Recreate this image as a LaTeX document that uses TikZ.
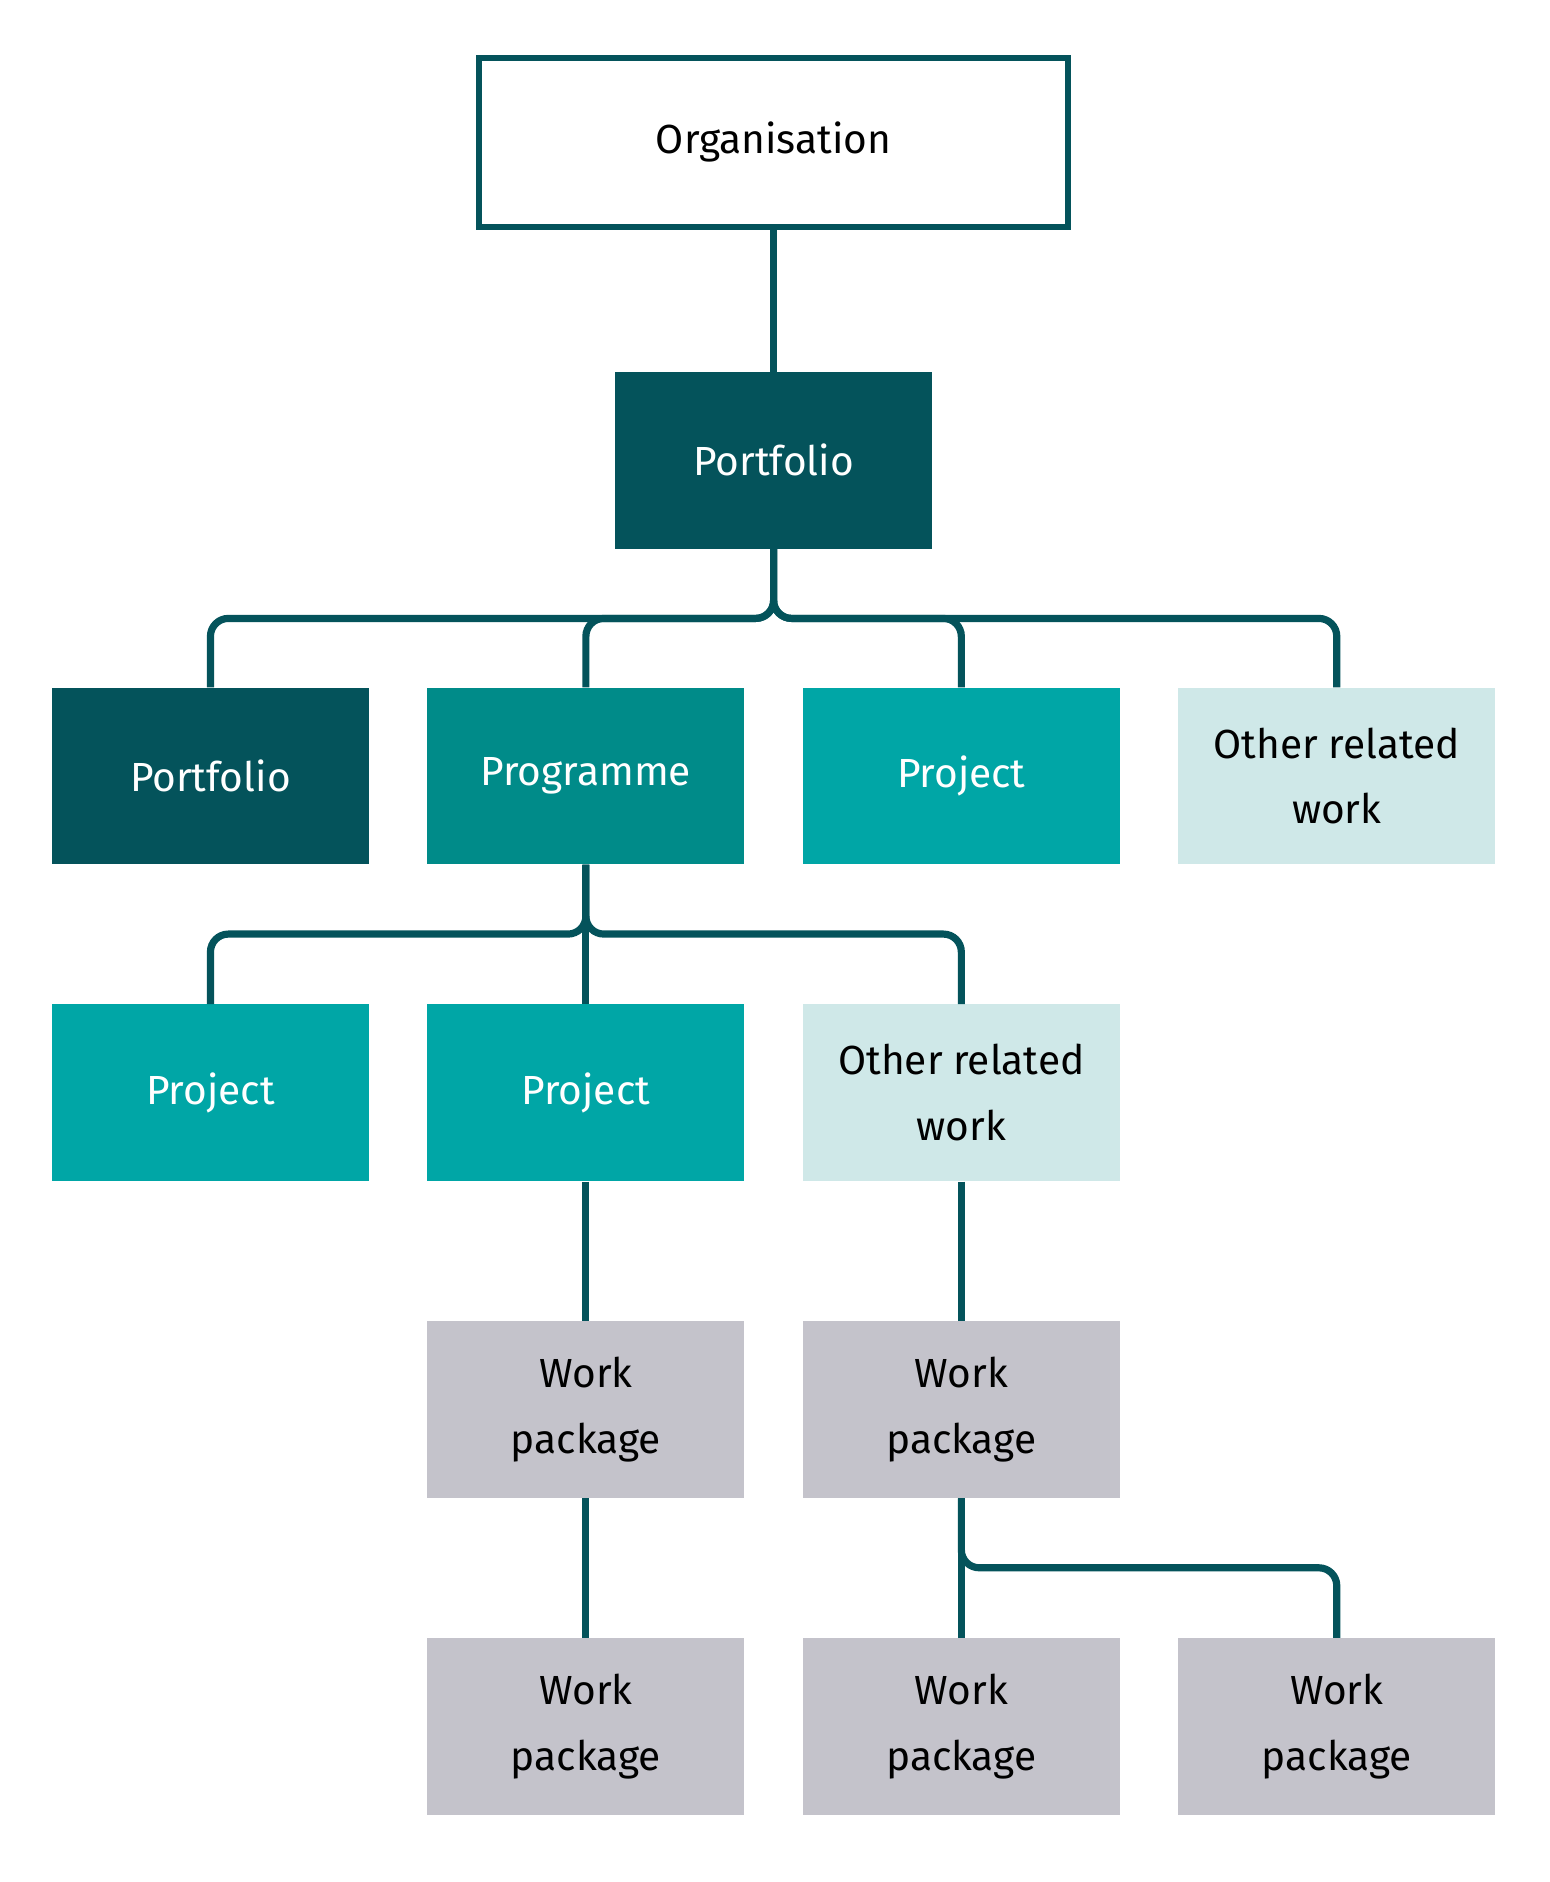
\documentclass[tikz,border=0pt]{standalone}
\usepackage{fontspec}
\setmainfont{Fira Sans}
\usepackage{tikz}
\usetikzlibrary{positioning}
\definecolor{DarkTeal}{HTML}{04535B}
\definecolor{MidTeal}{HTML}{008B89}
\definecolor{Teal}{HTML}{00A6A6}
\definecolor{LightTeal}{HTML}{CFE8E8}
\definecolor{WpGrey}{HTML}{C4C3CB}
\begin{document}
\begin{tikzpicture}[x=1pt,y=-1pt,
    box/.style={minimum width=265pt,minimum height=148pt,align=center,
        font=\fontsize{34}{55}\selectfont,inner sep=0pt},
    portfolio/.style={box,fill=DarkTeal,text=white},
    programme/.style={box,fill=MidTeal,text=white},
    project/.style={box,fill=Teal,text=white},
    other/.style={box,fill=LightTeal},
    wp/.style={box,fill=WpGrey},
    link/.style={draw=DarkTeal,line width=6pt,rounded corners=15pt}]
    \useasboundingbox (0,0) rectangle (1296,1574);
    \node[box,draw=DarkTeal,line width=5pt,minimum width=492pt,minimum height=141pt] (org) at (647,119) {Organisation};
    \node[portfolio] (pf) at (647,385) {Portfolio};

    \node[portfolio] (pf2) at (176,649) {Portfolio};
    \node[programme] (prog) at (490,649) {Programme};
    \node[project] (pj1) at (804,649) {Project};
    \node[other] (or1) at (1118,649) {Other related\\work};

    \node[project] (pj2) at (176,914) {Project};
    \node[project] (pj3) at (490,914) {Project};
    \node[other] (or2) at (804,914) {Other related\\work};

    \node[wp] (wp1) at (490,1179) {Work\\package};
    \node[wp] (wp2) at (804,1179) {Work\\package};

    \node[wp] (wp3) at (490,1444) {Work\\package};
    \node[wp] (wp4) at (804,1444) {Work\\package};
    \node[wp] (wp5) at (1118,1444) {Work\\package};

    % connectors
    \draw[link] (org.south) -- (pf.north);
    \foreach \t in {pf2,prog,pj1,or1}
        \draw[link] (pf.south) -- ++(0,58) -| (\t.north);
    \foreach \t in {pj2,pj3,or2}
        \draw[link] (prog.south) -- ++(0,58) -| (\t.north);
    \draw[link] (pj3.south) -- (wp1.north);
    \draw[link] (or2.south) -- (wp2.north);
    \draw[link] (wp1.south) -- (wp3.north);
    \draw[link] (wp2.south) -- (wp4.north);
    \draw[link] (wp2.south) -- ++(0,58) -| (wp5.north);
\end{tikzpicture}
\end{document}
